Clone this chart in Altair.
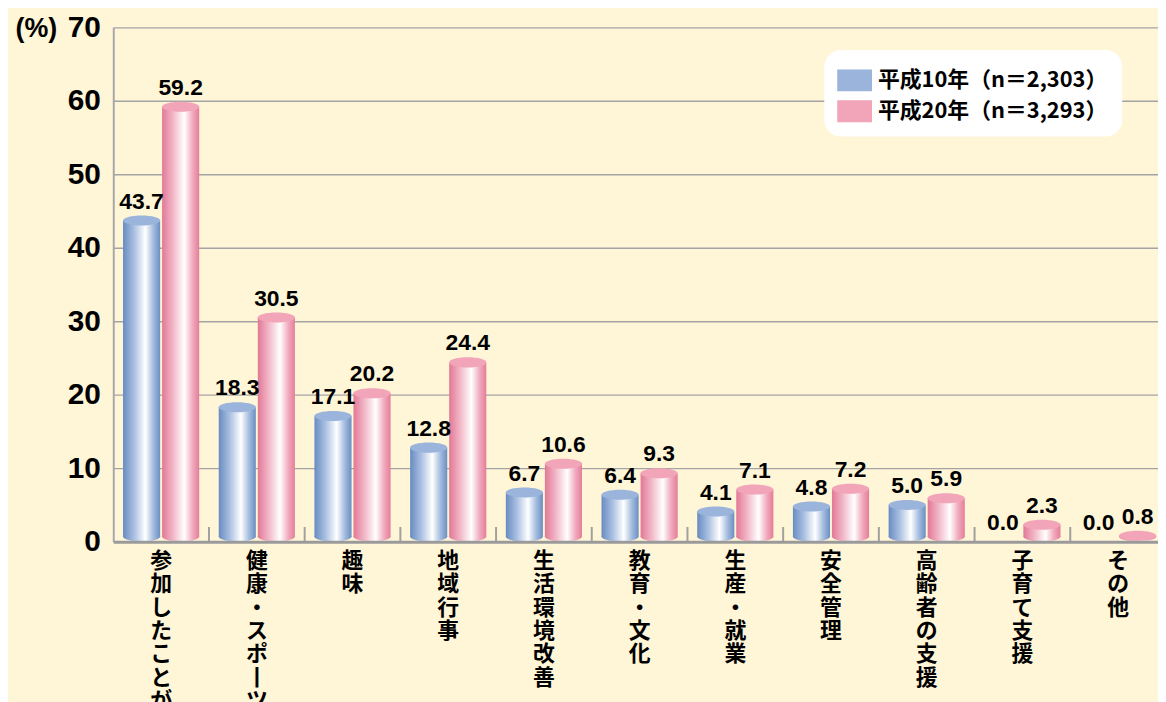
import altair as alt
import pandas as pd

categories = ["参加したことがある", "健康・スポーツ", "趣味", "地域行事", "生活環境改善",
              "教育・文化", "生産・就業", "安全管理", "高齢者の支援", "子育て支援", "その他"]
series_names = ["平成10年（n＝2,303）", "平成20年（n＝3,293）"]
values_h10 = [43.7, 18.3, 17.1, 12.8, 6.7, 6.4, 4.1, 4.8, 5.0, 0.0, 0.0]
values_h20 = [59.2, 30.5, 20.2, 24.4, 10.6, 9.3, 7.1, 7.2, 5.9, 2.3, 0.8]
y_ticks = [0, 10, 20, 30, 40, 50, 60, 70]

rows = []
for c, v in zip(categories, values_h10):
    rows.append({"cat": c, "series": series_names[0], "val": v})
for c, v in zip(categories, values_h20):
    rows.append({"cat": c, "series": series_names[1], "val": v})
df = pd.DataFrame(rows)
df["base"] = 0.7
df["label"] = df["val"].map(lambda v: f"{v:.1f}")

ticks_df = pd.DataFrame({"cat": categories[1:], "y0": 0.0, "y1": 2.0})

BG = "#fff5d7"
JP = "Noto Sans CJK JP"
NUM = "Liberation Sans"

def grad(stops):
    return alt.LinearGradient(gradient="linear", x1=0, x2=1, y1=0, y2=0,
                              stops=[alt.GradientStop(offset=o, color=c) for o, c in stops])

blue_grad = grad([(0, "#678cc1"), (0.3, "#aac0e2"), (0.6, "#ffffff"), (0.82, "#a3bbde"), (1, "#6a8fc3")])
pink_grad = grad([(0, "#e27896"), (0.3, "#f2b8c8"), (0.6, "#ffffff"), (0.82, "#f1abbe"), (1, "#e57d9a")])

ellipse = "M-1,0A1,0.27,0,1,0,1,0A1,0.27,0,1,0,-1,0Z"
ell_size = 1400

x_scale = alt.Scale(domain=categories, range=[0, 1060], paddingInner=0, paddingOuter=0)
x_axis = alt.Axis(title=None, labelAngle=0, labelAlign="center", labelBaseline="top",
                  labelExpr="split(replace(datum.label, 'ー', '丨'), '')",
                  labelFont=JP, labelFontSize=22, labelFontWeight="bold",
                  labelColor="#000000", labelLineHeight=23.5, labelPadding=9,
                  labelLimit=0, ticks=False, domainColor="#9a9a9a",
                  domainWidth=3, zindex=1)
x_enc = alt.X("cat:N", sort=categories, scale=x_scale, axis=x_axis)
y_scale = alt.Scale(domain=[0, 70], nice=False, zero=True)
y_axis = alt.Axis(title="(%)", titleAngle=0, titleAlign="right", titleBaseline="middle",
                  titleX=-57, titleY=1, titleFont=NUM, titleFontSize=27,
                  titleFontWeight="bold", titleColor="#000000",
                  values=y_ticks, labelFont=NUM, labelFontSize=30,
                  labelFontWeight="bold", labelColor="#000000", labelPadding=13,
                  ticks=False, domainColor="#a8a8a8", domainWidth=2,
                  grid=True, gridColor="#a4a4a4", gridWidth=1.3)
y_of = lambda f: alt.Y(f, scale=y_scale, axis=y_axis, title="(%)")
xo_enc = alt.XOffset("series:N", sort=series_names,
                     scale=alt.Scale(domain=series_names, paddingInner=0.05, paddingOuter=0.25))

base = alt.Chart(df)

layers = []
for s, g in zip(series_names, [blue_grad, pink_grad]):
    sub = base.transform_filter((alt.datum.series == s) & (alt.datum.val > 0))
    layers.append(sub.mark_point(shape=ellipse, size=ell_size, filled=True, color=g,
                                 opacity=1, strokeWidth=0).encode(
        x=x_enc, xOffset=xo_enc, y=y_of("base:Q")))
    layers.append(sub.mark_bar(color=g).encode(
        x=x_enc, xOffset=xo_enc, y=y_of("val:Q"), y2="base:Q"))

tops = base.transform_filter(alt.datum.val > 0).mark_point(
    shape=ellipse, size=ell_size, filled=True, opacity=1, strokeWidth=0).encode(
    x=x_enc, xOffset=xo_enc, y=y_of("val:Q"),
    color=alt.Color("series:N", sort=series_names,
                    scale=alt.Scale(domain=series_names, range=["#9ab4db", "#f2a4b9"]),
                    legend=alt.Legend(title=None, orient="none", legendX=716, legendY=23,
                                      symbolType="M-1,-0.63H1V0.63H-1Z", symbolSize=1225,
                                      symbolStrokeWidth=0, symbolOpacity=1,
                                      labelFont=JP, labelFontSize=22, labelFontWeight="bold",
                                      labelColor="#000000", labelOffset=6, labelLimit=400,
                                      fillColor="#ffffff", cornerRadius=16, padding=13,
                                      rowPadding=2, strokeColor="#ffffff")))

labels = base.mark_text(font=NUM, fontSize=23, fontWeight="bold", color="#000000",
                        baseline="bottom", dy=-7).encode(
    x=x_enc, xOffset=xo_enc, y=y_of("val:Q"), text="label:N")

tick_marks = alt.Chart(ticks_df).mark_rule(color="#a0a0a0", strokeWidth=2).encode(
    x=alt.X("cat:N", sort=categories, bandPosition=0, scale=x_scale, axis=x_axis),
    y=y_of("y0:Q"), y2="y1:Q")

chart = alt.layer(*layers, tick_marks, tops, labels).properties(
    width=1052, height=518,
    padding={"left": 106, "top": 17, "right": 0, "bottom": 159},
    autosize=alt.AutoSizeParams(type="none"),
    background=BG,
).configure_view(stroke=None, fill=BG)

chart.save("out.html", embed_options={"renderer": "svg", "actions": False})
